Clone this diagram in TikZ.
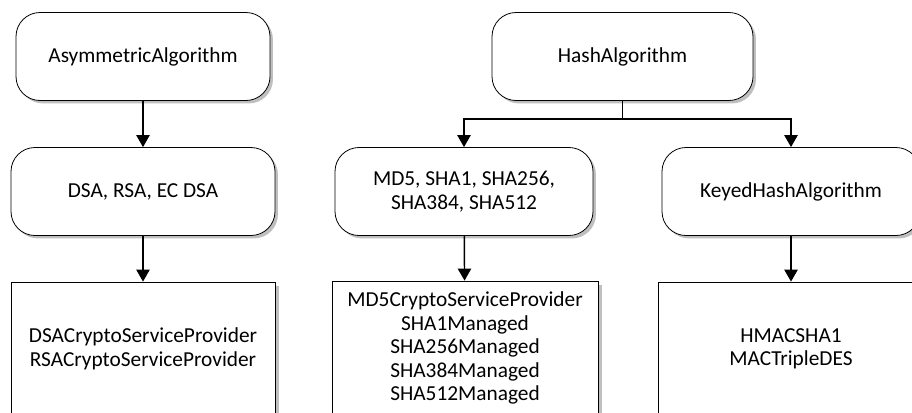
\documentclass[tikz,border=0pt]{standalone}
\usepackage{fontspec}
\setmainfont{Carlito}
\usetikzlibrary{arrows.meta,shadows}

\begin{document}
\begin{tikzpicture}[
        x=0.75pt, y=-0.75pt,
        every node/.style={font=\fontsize{16}{17.6}\selectfont, align=center, inner sep=0pt},
        algbox/.style={draw, line width=0.6pt, fill=white, rounded corners=18pt,
            drop shadow={shadow xshift=2.2pt, shadow yshift=-2.2pt, fill=black!50},
            minimum width=#1, minimum height=66pt},
        implbox/.style={draw, line width=0.6pt, fill=white,
            drop shadow={shadow xshift=2.8pt, shadow yshift=-2.8pt, fill=black!50},
            minimum width=#1, minimum height=100.5pt},
        arr/.style={line width=1.1pt, -{Triangle[width=10pt,length=9pt]}}
    ]
            \useasboundingbox (0,0) rectangle (912,412);
            \clip (0,0) rectangle (912,412);

            \node[algbox=190.5pt] (asym) at (143,56.5) {AsymmetricAlgorithm};
            \node[algbox=195.75pt] (hash) at (622.5,56.5) {HashAlgorithm};

            \node[algbox=198pt] (dsa) at (143,191.5) {DSA, RSA, EC DSA};
            \node[algbox=193.5pt] (md5) at (464,191.5) {MD5, SHA1, SHA256,\\ SHA384, SHA512};
            \node[algbox=193.5pt] (keyed) at (791,191.5) {KeyedHashAlgorithm};

            \node[implbox=198pt] (dsaimpl) at (143,349) {DSACryptoServiceProvider\\ RSACryptoServiceProvider};
            \node[implbox=199.5pt] (md5impl) at (465,348) {MD5CryptoServiceProvider\\ SHA1Managed\\ SHA256Managed\\ SHA384Managed\\ SHA512Managed};
            \node[implbox=199.5pt] (hmacimpl) at (791,349) {HMACSHA1\\ MACTripleDES};

            \draw[arr] (asym) -- (dsa);
            \draw[arr] (hash.south) -- ++(0,18) -| (md5);
            \draw[arr] (hash.south) -- ++(0,18) -| (keyed);
            \draw[arr] (dsa) -- (dsaimpl);
            \draw[arr] (md5) -- (md5impl);
            \draw[arr] (keyed) -- (hmacimpl);
\end{tikzpicture}
\end{document}
